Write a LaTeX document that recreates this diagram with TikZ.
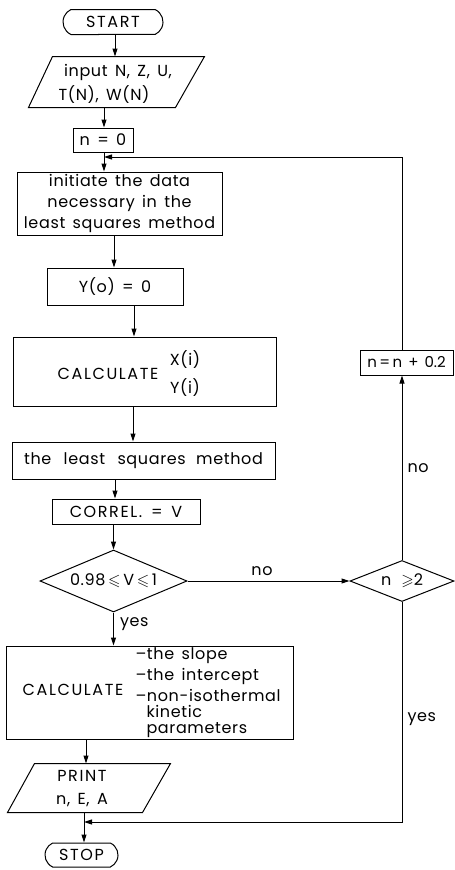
\documentclass[tikz,border=0pt]{standalone}
\usepackage{fontspec}
\usepackage{amssymb}
\setmainfont{Poppins}[LetterSpace=4, WordSpace=1.5]
\usetikzlibrary{shapes.geometric,shapes.misc,arrows.meta,calc}
\begin{document}
\begin{tikzpicture}[x=1pt,y=-1pt,
  line width=1pt,
  every node/.style={font=\fontsize{16}{21}\selectfont, inner sep=0pt},
  capsx/.style={font=\fontsize{16}{21}\selectfont\addfontfeature{LetterSpace=10}},
  tight/.style={font=\fontsize{15}{18}\selectfont\addfontfeature{LetterSpace=0}},
  box/.style={draw, rectangle, align=center},
  term/.style={draw, rounded rectangle, rounded rectangle arc length=130},
  ghost/.style={rectangle, align=center},
  dec/.style={draw, diamond},
  arr/.style={-{Triangle[length=8pt,width=5pt]}},
  lbl/.style={font=\fontsize{16}{18}\selectfont}
]
\useasboundingbox (0,0) rectangle (455,870);
% column coordinates
\coordinate (c84) at (84,0);
\coordinate (c86) at (86,0);
\coordinate (c104) at (104,0);
\coordinate (c114) at (114,0);
\coordinate (c115) at (115,0);
\coordinate (c133) at (133,0);
\coordinate (c134) at (134,0);
% nodes
\node[term, capsx, minimum width=100pt, minimum height=25pt] (start) at (113,22) {START};
\node[ghost, minimum width=175pt, minimum height=50pt] (input) at (116.5,82) {};
\draw (input.south west) -- ($(input.north west)+(24,0)$) -- (input.north east) -- ($(input.south east)-(29,0)$) -- cycle;
\node (inputA) at (118,72) {input N, Z, U,};
\node (inputB) at (104,95) {T(N), W(N)};
\node[box, minimum width=60pt, minimum height=24pt] (n0) at (103,140) {n = 0};
\node[box, minimum width=205pt, minimum height=63pt] (init) at (119.5,203.5) {initiate the data\\necessary in the\\least squares method};
\node[box, minimum width=136pt, minimum height=37pt] (y0) at (115,286.5) {Y(o) = 0};
\node[box, minimum width=263pt, minimum height=69pt] (calc1) at (144.5,371.5) {};
\node[capsx] (calcA) at (108,374) {CALCULATE};
\node (calcX) at (185,360) {X(i)};
\node (calcY) at (185,388) {Y(i)};
\node[box, minimum width=263pt, minimum height=37pt] (lsq) at (143.5,460.5) {the\hspace{5pt} least\hspace{5pt} squares\hspace{3pt} method};
\node[box, capsx, minimum width=148pt, minimum height=25pt] (correl) at (126,511.5) {CORREL. = V};
\node[dec, aspect=2.37, minimum width=147pt, minimum height=62pt] (dec1) at (113.5,581) {0.98\,$\leqslant$\,V\,$\leqslant$\,1};
\node[dec, aspect=2.5, minimum width=104pt, minimum height=41pt] (dec2) at (402,581) {n\, $\geqslant$2};
\node[box, tight, minimum width=93pt, minimum height=25pt] (inc) at (406.5,362.5) {n\,=\,n + 0.2};
\node[box, minimum width=287pt, minimum height=93pt] (calc2) at (149.5,692.5) {};
\node[capsx] (calc2A) at (73,690) {CALCULATE};
\node[anchor=west] (l1) at (135,656) {–the slope};
\node[anchor=west] (l2) at (135,676) {–the intercept};
\node[anchor=west] (l3) at (135,695) {–non-isothermal};
\node[anchor=west] (l4) at (146,711) {kinetic};
\node[anchor=west] (l5) at (146,730) {parameters};
\node[ghost, minimum width=162pt, minimum height=48pt] (print) at (89,788) {};
\draw (print.south west) -- ($(print.north west)+(27,0)$) -- (print.north east) -- ($(print.south east)-(28,0)$) -- cycle;
\node[capsx, align=center] (printA) at (82,776) {PRINT};
\node[align=center] (printB) at (82,800) {n, E, A};
\node[term, capsx, minimum width=73pt, minimum height=24pt] (stop) at (81.5,855) {STOP};
% joins
\coordinate (join1) at (104,157);
\coordinate (join2) at (84,822);
% connectors
\draw[arr] (start.south -| c115) -- (input.north -| c115);
\draw[arr] (input.south -| c104) -- (n0.north -| c104);
\draw[arr] (n0.south -| c104) -- (init.north -| c104);
\draw[arr] (init.south -| c114) -- (y0.north -| c114);
\draw[arr] (y0.south -| c134) -- (calc1.north -| c134);
\draw[arr] (calc1.south -| c133) -- (lsq.north -| c133);
\draw[arr] (lsq.south -| c115) -- (correl.north -| c115);
\draw[arr] (correl.south -| dec1.north) -- (dec1.north);
\draw[arr] (dec1.east) -- node[lbl, above=5pt, pos=0.46] {no} (dec2.west);
\draw[arr] (dec1.south) -- node[lbl, right=6pt, pos=0.35] {yes} (calc2.north -| dec1.south);
\draw[arr] (dec2.north) -- node[lbl, right=5pt, pos=0.5] {no} (inc.south -| dec2.north);
\draw[arr] (inc.north -| dec2.north) |- (join1);
\draw[arr] (dec2.south) -- node[lbl, right=5pt, pos=0.53] {yes} (dec2.south |- join2) -- (join2);
\draw[arr] (calc2.south -| c86) -- (print.north -| c86);
\draw[arr] (print.south -| c84) -- (stop.north -| c84);
\end{tikzpicture}
\end{document}
